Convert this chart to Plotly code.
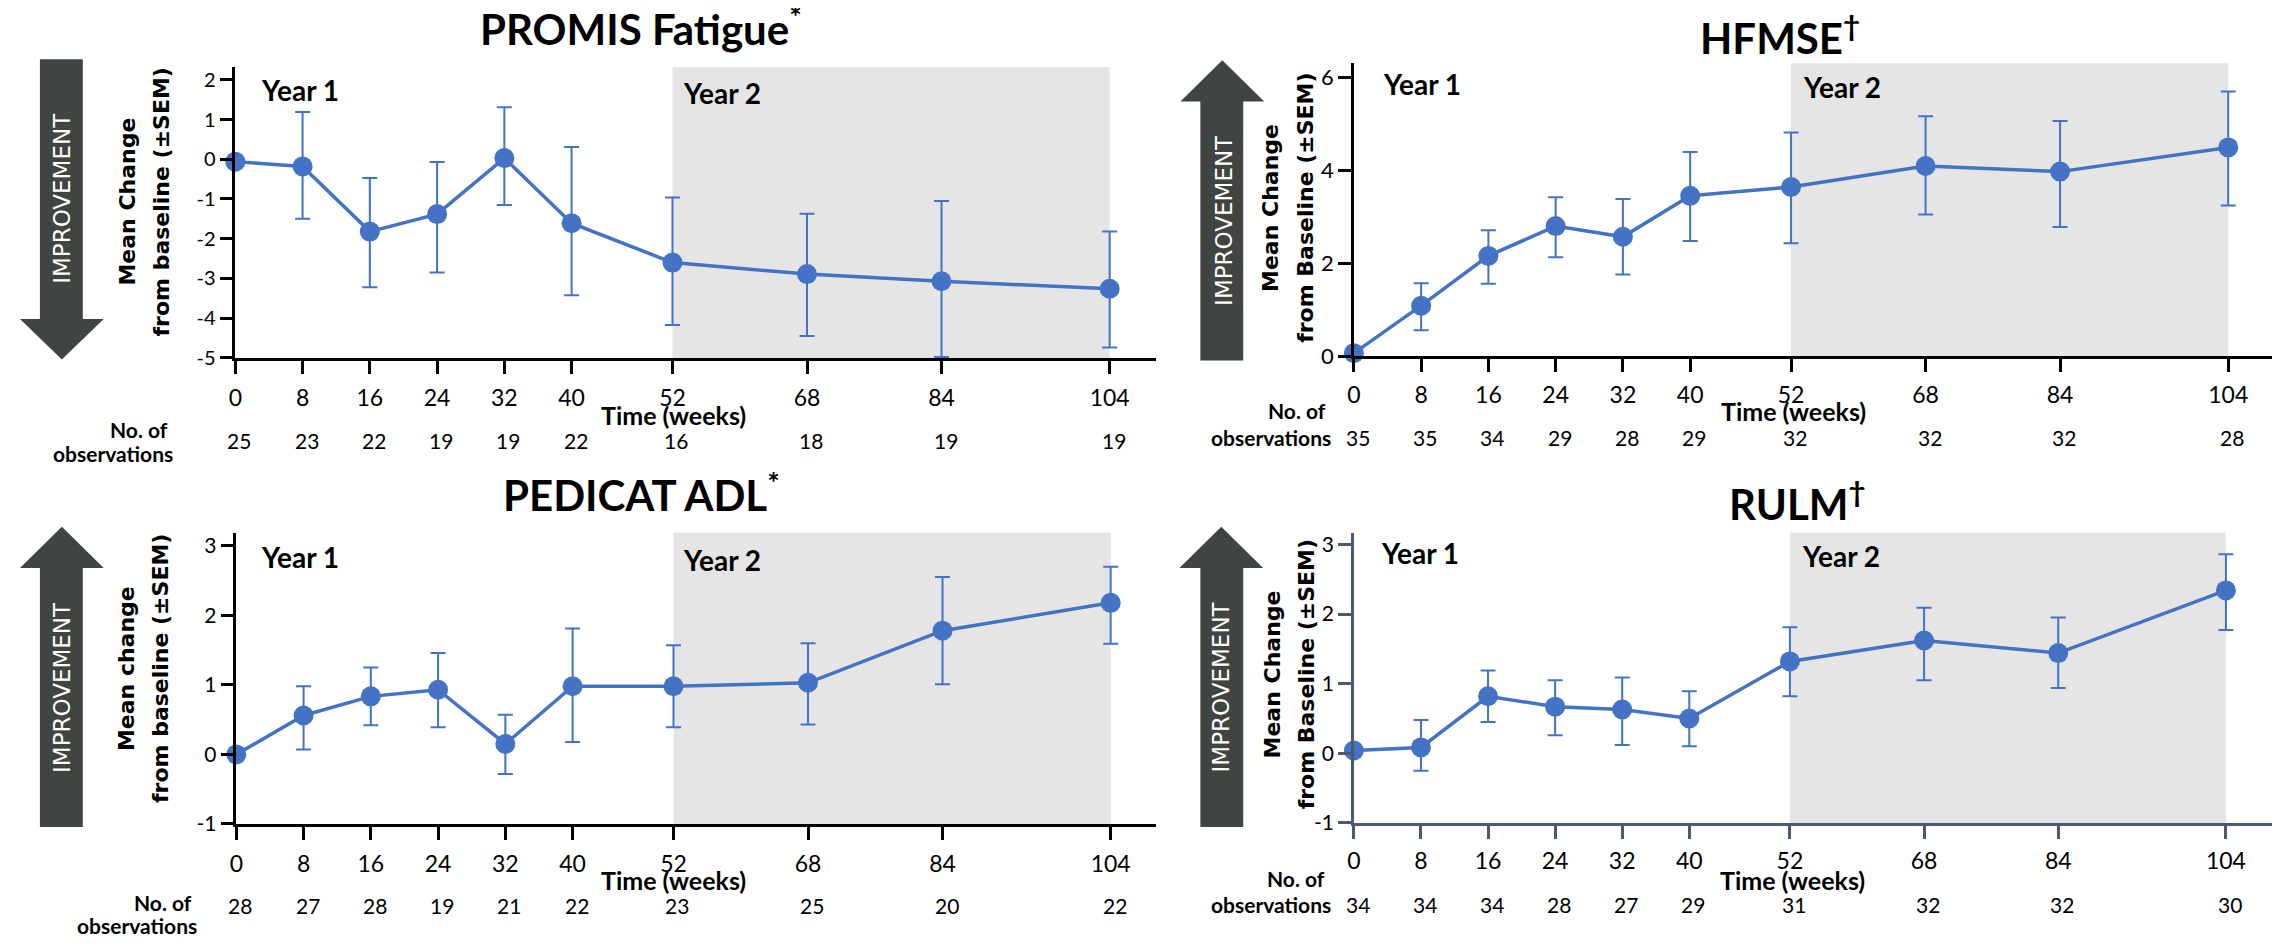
import plotly.graph_objects as go

W, H = 2280, 950
# the page body adds an 8px margin around the figure; positions below are
# screen positions, converted to figure coordinates by removing that offset
OFF = 8

# ---------------- data ----------------
weeks = [0, 8, 16, 24, 32, 40, 52, 68, 84, 104]
week_labels = ["0", "8", "16", "24", "32", "40", "52", "68", "84", "104"]

promis_mean = [-0.06, -0.18, -1.82, -1.38, 0.03, -1.61, -2.60, -2.89, -3.07, -3.26]
promis_upper = [-0.06, 1.19, -0.47, -0.07, 1.31, 0.31, -0.96, -1.37, -1.05, -1.82]
promis_lower = [-0.06, -1.50, -3.22, -2.85, -1.15, -3.42, -4.17, -4.45, -4.98, -4.74]
promis_n = [25, 23, 22, 19, 19, 22, 16, 18, 19, 19]

hfmse_mean = [0.07, 1.09, 2.16, 2.80, 2.57, 3.45, 3.64, 4.09, 3.97, 4.49]
hfmse_upper = [0.07, 1.57, 2.71, 3.42, 3.38, 4.39, 4.81, 5.16, 5.06, 5.69]
hfmse_lower = [0.07, 0.56, 1.56, 2.13, 1.76, 2.48, 2.43, 3.05, 2.78, 3.24]
hfmse_n = [35, 35, 34, 29, 28, 29, 32, 32, 32, 28]

pedicat_mean = [0.0, 0.56, 0.835, 0.93, 0.15, 0.98, 0.98, 1.03, 1.78, 2.18]
pedicat_upper = [0.0, 0.98, 1.25, 1.46, 0.57, 1.81, 1.57, 1.60, 2.55, 2.70]
pedicat_lower = [0.0, 0.07, 0.42, 0.39, -0.28, 0.18, 0.39, 0.43, 1.01, 1.59]
pedicat_n = [28, 27, 28, 19, 21, 22, 23, 25, 20, 22]

rulm_mean = [0.04, 0.085, 0.82, 0.67, 0.63, 0.50, 1.32, 1.62, 1.44, 2.34]
rulm_upper = [0.04, 0.48, 1.19, 1.05, 1.09, 0.89, 1.81, 2.09, 1.95, 2.86]
rulm_lower = [0.04, -0.25, 0.45, 0.26, 0.12, 0.10, 0.82, 1.05, 0.94, 1.77]
rulm_n = [34, 34, 34, 28, 27, 29, 31, 32, 32, 30]

year2_start, year2_end = 52, 104

# ---------------- styling ----------------
BLUE = "#4472C4"
BAND = "#E5E5E5"
ARROW = "#404542"
FONT = "Lato"
YFONT = "DejaVu Sans"


def px(x):
    return (x - OFF) / W


def py(y):
    return 1 - (y - OFF) / H


panels = [
    dict(title="PROMIS Fatigue<sup>*</sup>", title_xy=(636, 24),
         yl1="Mean Change", yl2="from baseline (±SEM)", yl_x=(121, 155), yl_y=203,
         mean=promis_mean, upper=promis_upper, lower=promis_lower, n=promis_n,
         xd=(229, 1153), yd=(361.5, 66), xr=(0, 109.57), yr=(-5, 2.32),
         yticks=[-5, -4, -3, -2, -1, 0, 1, 2], ytick_size=20, axcolor="black", standoff=5,
         arrow="down", arrow_geo=dict(sx=(33, 76), top=58, base=322, hx=(13, 97), tip=363, cx=55),
         imp_xy=(55, 199), year1=(253, 89), year2=(676, 92),
         time_xy=(669, 419), n_y=445, noof=(163, 434), obs=(168, 459)),
    dict(title="HFMSE<sup>†</sup>", title_xy=(1778, 33),
         yl1="Mean Change", yl2="from Baseline (±SEM)", yl_x=(1268, 1303), yl_y=209,
         mean=hfmse_mean, upper=hfmse_upper, lower=hfmse_lower, n=hfmse_n,
         xd=(1351, 2274), yd=(360, 62), xr=(0, 109.45), yr=(0, 6.30),
         yticks=[0, 2, 4, 6], ytick_size=22, axcolor="black", standoff=3,
         arrow="up", arrow_geo=dict(sx=(1197, 1240), top=364, base=101, hx=(1177, 1261), tip=59, cx=1219),
         imp_xy=(1220, 222), year1=(1378, 83), year2=(1800, 86),
         time_xy=(1792, 415), n_y=442, noof=(1325, 415), obs=(1330, 442)),
    dict(title="PEDICAT ADL<sup>*</sup>", title_xy=(636, 498),
         yl1="Mean change", yl2="from baseline (±SEM)", yl_x=(120, 154), yl_y=677,
         mean=pedicat_mean, upper=pedicat_upper, lower=pedicat_lower, n=pedicat_n,
         xd=(230, 1153), yd=(835, 539), xr=(0, 109.45), yr=(-1, 3.19),
         yticks=[-1, 0, 1, 2, 3], ytick_size=21, axcolor="black", standoff=5,
         arrow="up", arrow_geo=dict(sx=(33, 76), top=838, base=575, hx=(13, 97), tip=533, cx=55),
         imp_xy=(55, 696), year1=(253, 564), year2=(676, 567),
         time_xy=(669, 892), n_y=918, noof=(188, 915), obs=(193, 938)),
    dict(title="RULM<sup>†</sup>", title_xy=(1796, 507),
         yl1="Mean Change", yl2="from Baseline (±SEM)", yl_x=(1269, 1303), yl_y=683,
         mean=rulm_mean, upper=rulm_upper, lower=rulm_lower, n=rulm_n,
         xd=(1351, 2272), yd=(834, 539), xr=(0, 109.5), yr=(-1, 3.17),
         yticks=[-1, 0, 1, 2, 3], ytick_size=21, axcolor="#4A5A75", standoff=3,
         arrow="up", arrow_geo=dict(sx=(1197, 1240), top=838, base=575, hx=(1176, 1260), tip=533, cx=1218),
         imp_xy=(1218, 696), year1=(1376, 560), year2=(1798, 563),
         time_xy=(1791, 892), n_y=917, noof=(1324, 890), obs=(1330, 917)),
]

fig = go.Figure()
shapes = []
annotations = []
layout_axes = {}

for i, p in enumerate(panels, start=1):
    xa = "x" if i == 1 else f"x{i}"
    ya = "y" if i == 1 else f"y{i}"
    xkey = "xaxis" if i == 1 else f"xaxis{i}"
    ykey = "yaxis" if i == 1 else f"yaxis{i}"

    err_plus = [u - m for u, m in zip(p["upper"], p["mean"])]
    err_minus = [m - l for m, l in zip(p["mean"], p["lower"])]

    fig.add_trace(go.Scatter(
        x=weeks, y=p["mean"], xaxis=xa, yaxis=ya, mode="lines+markers",
        line=dict(color=BLUE, width=3.5),
        marker=dict(color=BLUE, size=20),
        error_y=dict(type="data", symmetric=False, array=err_plus, arrayminus=err_minus,
                     color=BLUE, thickness=2, width=7.5),
        cliponaxis=False, showlegend=False, hoverinfo="x+y",
    ))

    layout_axes[xkey] = dict(
        domain=[px(p["xd"][0]), px(p["xd"][1])], range=list(p["xr"]), anchor=ya,
        showline=True, linecolor=p["axcolor"], linewidth=2.5,
        ticks="outside", ticklen=13, tickwidth=2.5, tickcolor=p["axcolor"],
        tickvals=weeks, ticktext=week_labels, ticklabelstandoff=p["standoff"],
        tickfont=dict(family=FONT, size=23, color="black"),
        showgrid=False, zeroline=False, fixedrange=True,
    )
    layout_axes[ykey] = dict(
        domain=[py(p["yd"][0]), py(p["yd"][1])], range=list(p["yr"]), anchor=xa,
        showline=True, linecolor=p["axcolor"], linewidth=2.5,
        ticks="outside", ticklen=13, tickwidth=2.5, tickcolor=p["axcolor"],
        tickvals=p["yticks"], ticktext=[str(v) for v in p["yticks"]],
        tickfont=dict(family=FONT, size=p["ytick_size"], color="black"),
        showgrid=False, zeroline=False, fixedrange=True,
    )

    # Year 2 band
    shapes.append(dict(type="rect", xref=xa, yref=f"{ya} domain",
                       x0=year2_start, x1=year2_end, y0=0, y1=1,
                       fillcolor=BAND, line=dict(width=0), layer="below"))

    # Improvement arrow
    g = p["arrow_geo"]
    sx0, sx1 = px(g["sx"][0]), px(g["sx"][1])
    hx0, hx1 = px(g["hx"][0]), px(g["hx"][1])
    top, base, tip, cx = py(g["top"]), py(g["base"]), py(g["tip"]), px(g["cx"])
    path = (f"M{sx0},{top} L{sx1},{top} L{sx1},{base} L{hx1},{base} "
            f"L{cx},{tip} L{hx0},{base} L{sx0},{base} Z")
    shapes.append(dict(type="path", xref="paper", yref="paper", path=path,
                       fillcolor=ARROW, line=dict(width=0)))
    annotations.append(dict(x=px(p["imp_xy"][0]), y=py(p["imp_xy"][1]), xref="paper", yref="paper",
                            text="IMPROVEMENT", textangle=-90, showarrow=False,
                            xanchor="center", yanchor="middle",
                            font=dict(family=YFONT, size=23, color="white")))

    # Title
    annotations.append(dict(x=px(p["title_xy"][0]), y=py(p["title_xy"][1]), xref="paper", yref="paper",
                            text=f"<b>{p['title']}</b>", showarrow=False,
                            xanchor="center", yanchor="middle",
                            font=dict(family=FONT, size=42, color="black")))

    # Y-axis title (two lines)
    for txt, xx in ((p["yl1"], p["yl_x"][0]), (p["yl2"], p["yl_x"][1])):
        annotations.append(dict(x=px(xx), y=py(p["yl_y"]), xref="paper", yref="paper",
                                text=f"<b>{txt}</b>", textangle=-90, showarrow=False,
                                xanchor="center", yanchor="middle",
                                font=dict(family=YFONT, size=22, color="black")))

    # Year labels
    for txt, (xx, yy) in (("Year 1", p["year1"]), ("Year 2", p["year2"])):
        annotations.append(dict(x=px(xx), y=py(yy), xref="paper", yref="paper",
                                text=f"<b>{txt}</b>", showarrow=False,
                                xanchor="left", yanchor="middle",
                                font=dict(family=FONT, size=28, color="black")))

    # X-axis title
    annotations.append(dict(x=px(p["time_xy"][0]), y=py(p["time_xy"][1]), xref="paper", yref="paper",
                            text="<b>Time (weeks)</b>", showarrow=False,
                            xanchor="center", yanchor="middle",
                            font=dict(family=FONT, size=25, color="black")))

    # Observation counts
    annotations.append(dict(x=px(p["noof"][0]), y=py(p["noof"][1]), xref="paper", yref="paper",
                            text="<b>No. of</b>", showarrow=False,
                            xanchor="right", yanchor="middle",
                            font=dict(family=FONT, size=21, color="black")))
    annotations.append(dict(x=px(p["obs"][0]), y=py(p["obs"][1]), xref="paper", yref="paper",
                            text="<b>observations</b>", showarrow=False,
                            xanchor="right", yanchor="middle",
                            font=dict(family=FONT, size=21, color="black")))
    for wk, n in zip(weeks, p["n"]):
        annotations.append(dict(x=wk, y=py(p["n_y"]), xref=xa, yref="paper",
                                text=str(n), showarrow=False, xshift=4,
                                xanchor="center", yanchor="middle",
                                font=dict(family=FONT, size=21, color="black")))

fig.update_layout(
    width=W, height=H,
    margin=dict(l=0, r=0, t=0, b=0),
    paper_bgcolor="white", plot_bgcolor="rgba(0,0,0,0)",
    shapes=shapes, annotations=annotations,
    showlegend=False,
    **layout_axes,
)

fig.write_html("out.html", config={"displayModeBar": False})
